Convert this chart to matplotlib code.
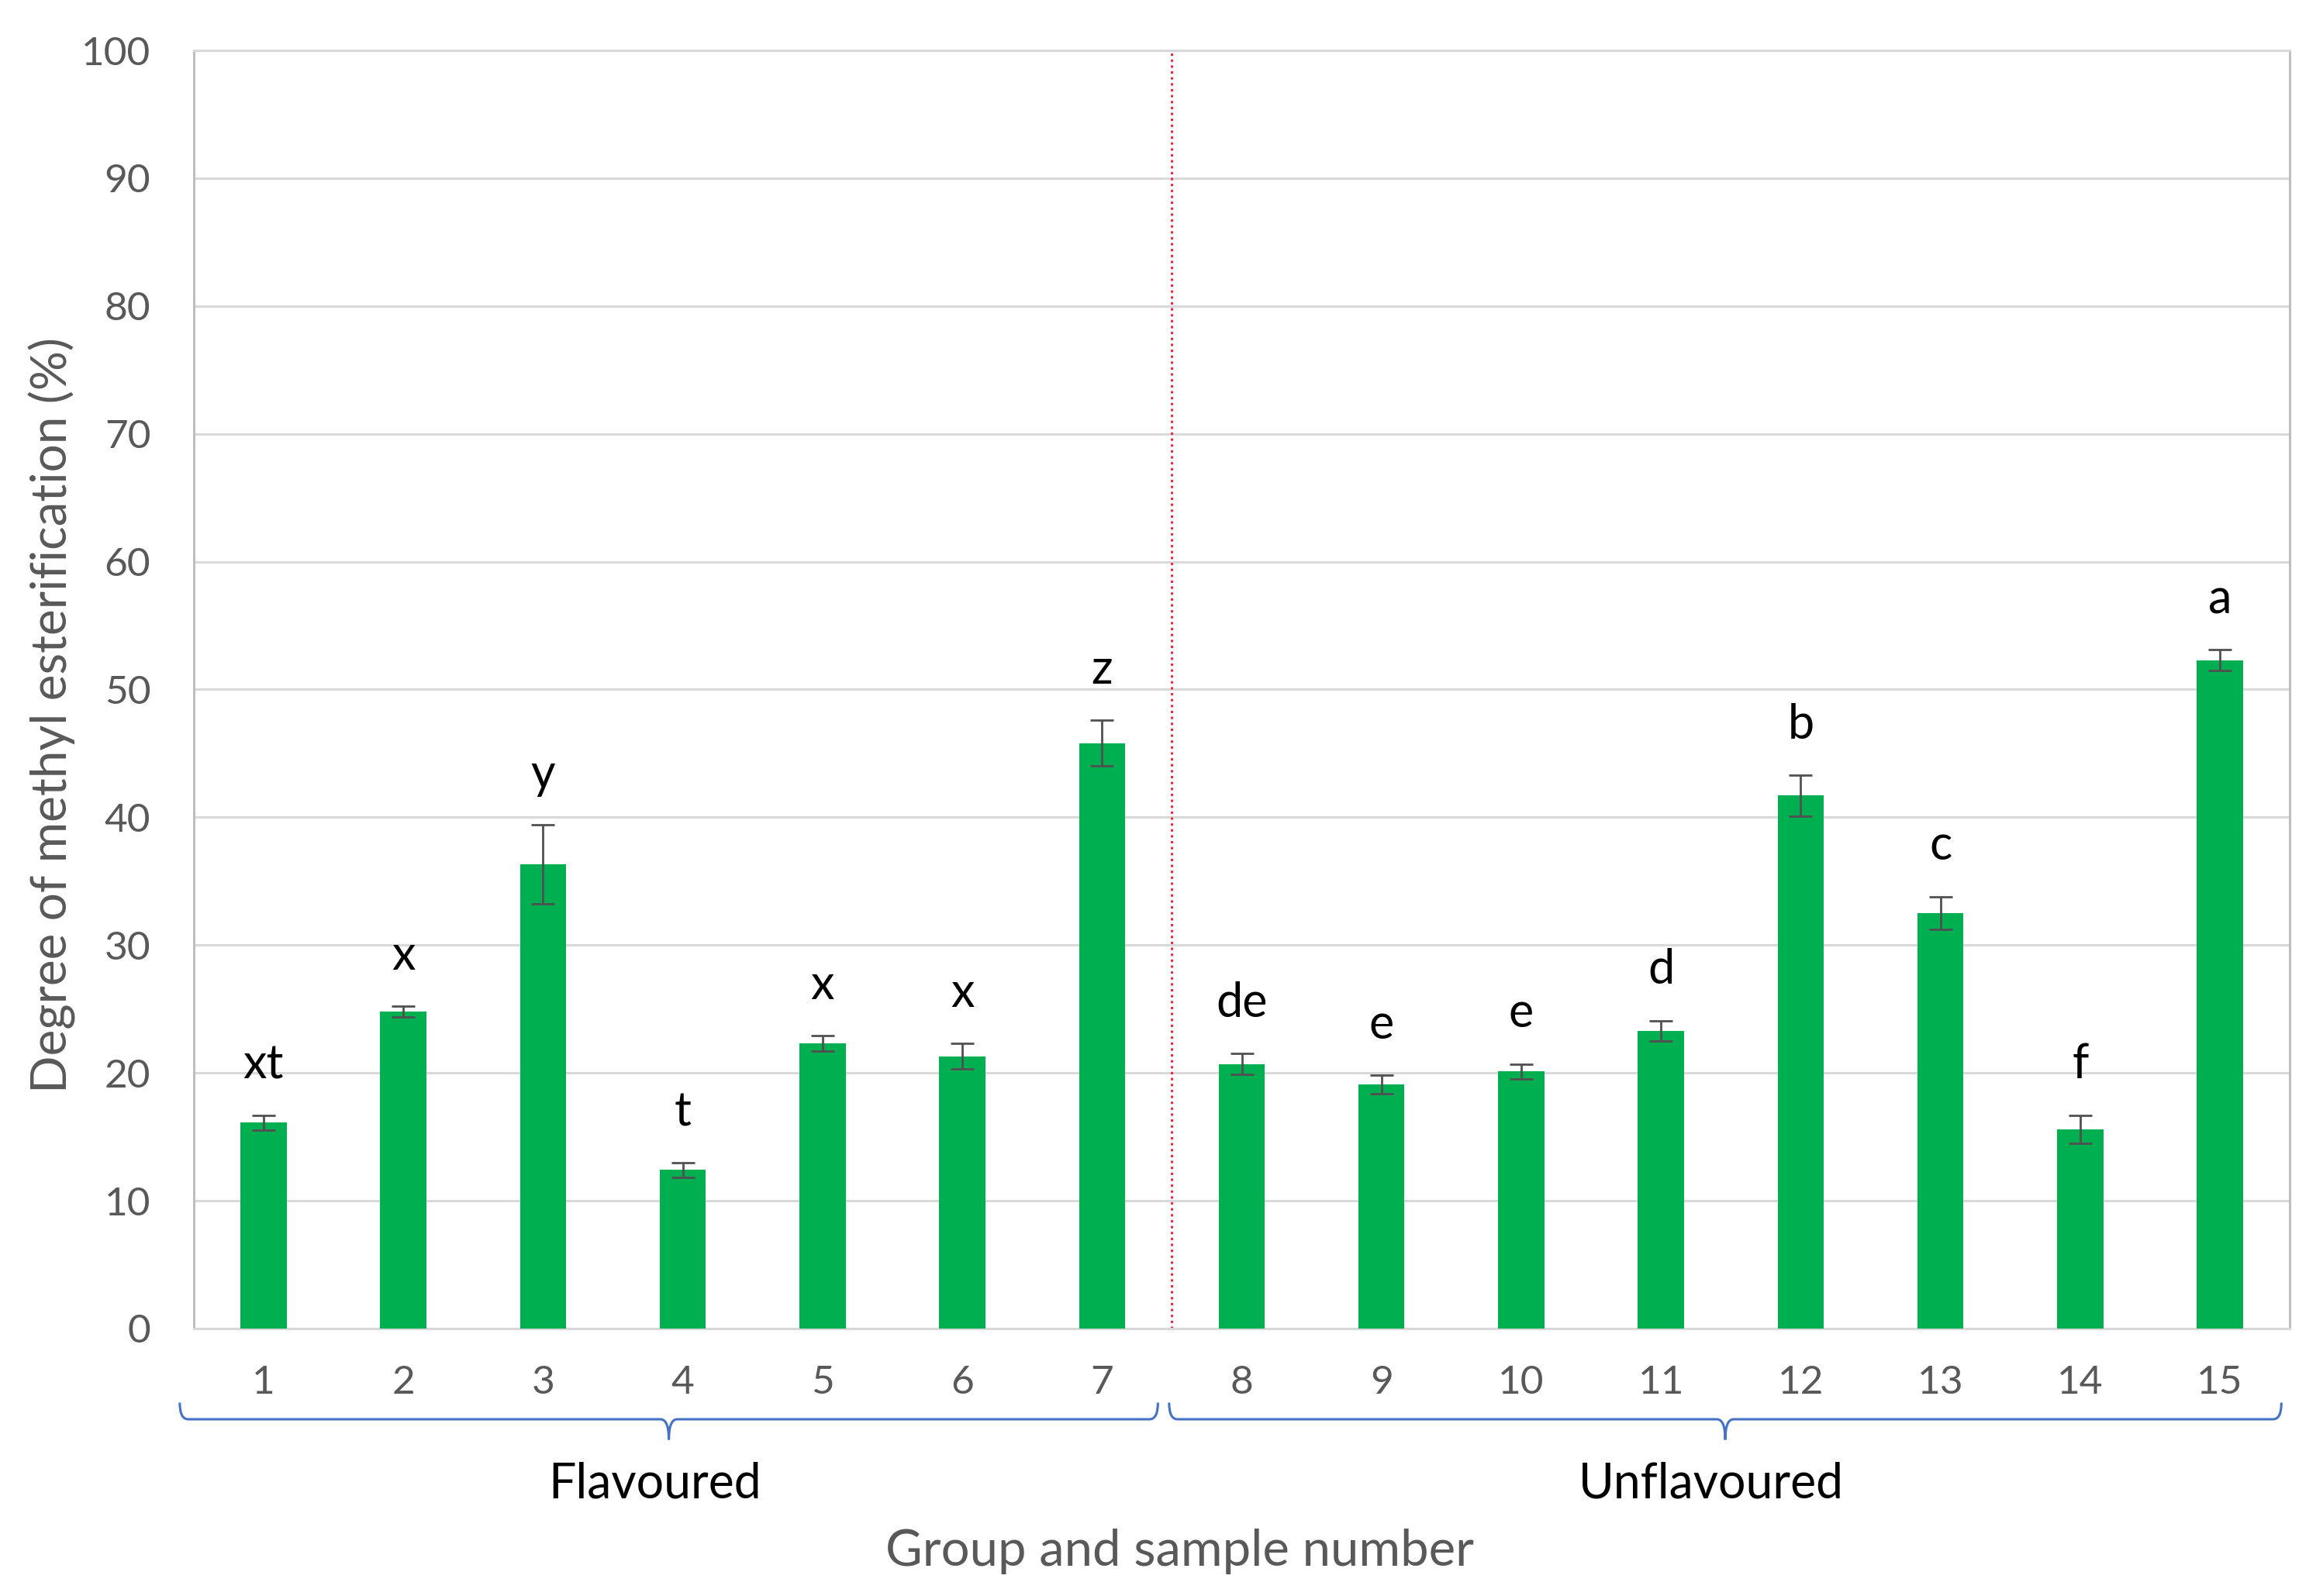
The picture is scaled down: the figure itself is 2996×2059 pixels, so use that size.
import matplotlib
matplotlib.use("Agg")
from matplotlib import pyplot as plt
from matplotlib.path import Path
from matplotlib.patches import PathPatch
import matplotlib.transforms as mtransforms

plt.rcParams['font.family'] = ['Lato', 'DejaVu Sans']

samples = list(range(1, 16))
values = [16.1, 24.8, 36.3, 12.4, 22.3, 21.3, 45.8, 20.7, 19.1, 20.1, 23.3, 41.7, 32.5, 15.6, 52.3]
errors = [0.6, 0.4, 3.1, 0.6, 0.6, 1.0, 1.8, 0.8, 0.7, 0.6, 0.8, 1.6, 1.3, 1.1, 0.8]
letters = ['xt', 'x', 'y', 't', 'x', 'x', 'z', 'de', 'e', 'e', 'd', 'b', 'c', 'f', 'a']
groups = ['Flavoured', 'Unflavoured']
group_sizes = [7, 8]

green = '#00B050'
grid_grey = '#D9D9D9'
text_grey = '#595959'
brace_blue = '#4472C4'

fig = plt.figure(figsize=(29.96, 20.59), dpi=100)
ax = fig.add_axes([0.0834, 0.1676, 0.9023, 0.8008])

ax.bar(samples, values, width=0.33, color=green, zorder=3)
ax.errorbar(samples, values, yerr=errors, fmt='none', ecolor='#505050',
            elinewidth=2.0, capsize=11, capthick=2.0, zorder=4)

for x, v, e, s in zip(samples, values, errors, letters):
    ax.annotate(s, (x, v + e), xytext=(0, 26), textcoords='offset points',
                ha='center', va='bottom', fontsize=44, color='black')

ax.set_xlim(0.5, 15.5)
ax.set_ylim(0, 100)
ax.set_yticks(range(0, 101, 10))
ax.set_xticks(samples)
ax.yaxis.grid(True, color=grid_grey, linewidth=2.2, zorder=0)
ax.set_axisbelow(True)
ax.tick_params(axis='both', length=0, labelsize=37, labelcolor=text_grey)
ax.tick_params(axis='y', pad=40)
ax.tick_params(axis='x', pad=34)

for side in ['top', 'bottom']:
    ax.spines[side].set_color(grid_grey)
    ax.spines[side].set_linewidth(2.2)
for side in ['left', 'right']:
    ax.spines[side].set_color('#BFBFBF')
    ax.spines[side].set_linewidth(2.2)

# dotted separator between the two groups
split = group_sizes[0] + 0.5
ax.axvline(split, color='#E03040', linestyle=(0, (1, 1.5)), linewidth=2.2, zorder=2)

fig.text(0.0224, 0.552, 'Degree of methyl esterification (%)', rotation=90,
         ha='center', va='center', fontsize=46, color=text_grey)
fig.text(0.508, 0.028, 'Group and sample number', ha='center', va='center',
         fontsize=47, color=text_grey)

# curly braces under the x axis with group names
trans = mtransforms.blended_transform_factory(ax.transData, ax.transAxes)
y0, yc, ytip = -0.071, -0.058, -0.087
r = 0.06
start = 0.5
for name, n in zip(groups, group_sizes):
    a = start - 0.1 if start == 0.5 else start - 0.02
    b = start + n - 0.1 + (0.04 if name == groups[-1] else 0)
    m = (a + b) / 2
    verts = [(a, yc), (a, y0), (a + r, y0), (m - r, y0), (m, y0), (m, ytip),
             (m, y0), (m + r, y0), (b - r, y0), (b, y0), (b, yc)]
    codes = [Path.MOVETO, Path.CURVE3, Path.CURVE3, Path.LINETO, Path.CURVE3, Path.CURVE3,
             Path.CURVE3, Path.CURVE3, Path.LINETO, Path.CURVE3, Path.CURVE3]
    ax.add_patch(PathPatch(Path(verts, codes), transform=trans, fill=False,
                           edgecolor=brace_blue, linewidth=2.2, clip_on=False))
    ax.text(m - 0.1, -0.104, name, transform=trans, ha='center', va='top', fontsize=45, color='black')
    start += n

fig.savefig('out.png', dpi=100)
